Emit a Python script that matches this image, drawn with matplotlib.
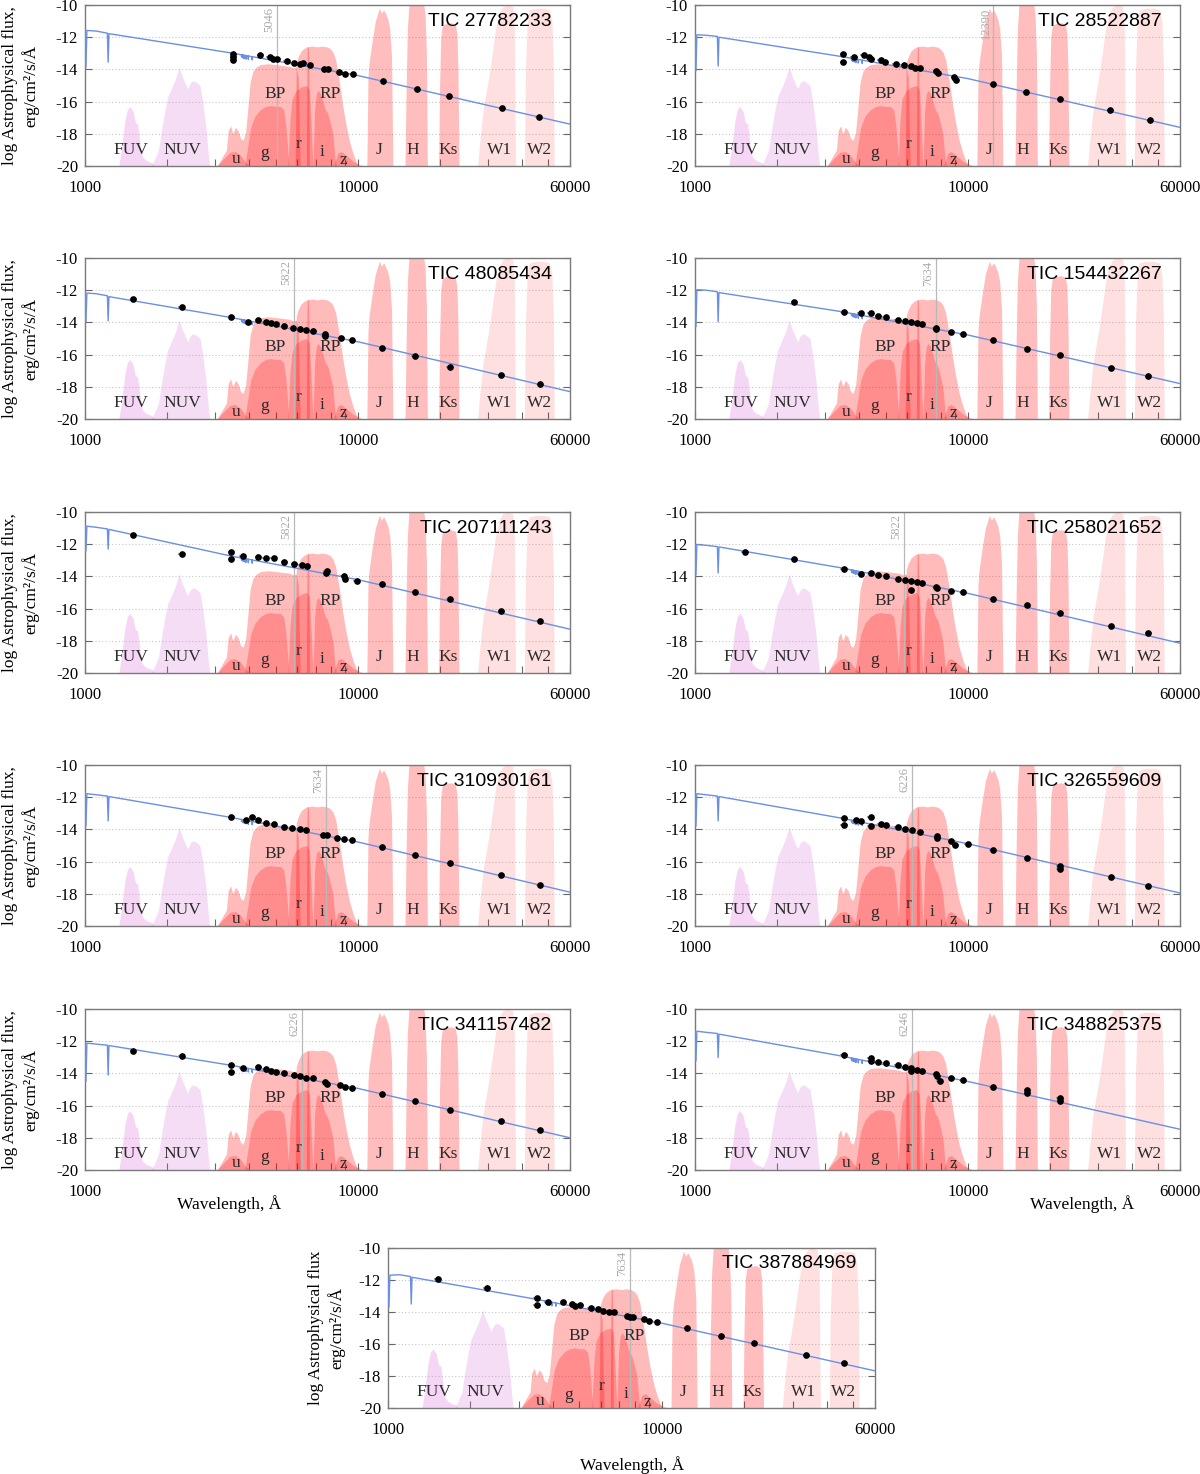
import numpy as np
import matplotlib
matplotlib.use("Agg")
import matplotlib.pyplot as plt
from matplotlib.ticker import FixedLocator, NullFormatter, FixedFormatter

plt.rcParams['font.family'] = ['Liberation Serif', 'DejaVu Serif']
plt.rcParams['axes.unicode_minus'] = False

# ---------------- panel metadata ----------------
TITLES = ["TIC 27782233", "TIC 28522887", "TIC 48085434", "TIC 154432267",
          "TIC 207111243", "TIC 258021652", "TIC 310930161", "TIC 326559609",
          "TIC 341157482", "TIC 348825375", "TIC 387884969"]
VLINES = [5046, 12390, 5822, 7634, 5822, 5822, 7634, 6226, 6226, 6246, 7634]

# ---------------- model SEDs (log flux on a shared wavelength grid) ----------------
MODEL_WL = [1000, 1008, 1016, 1100, 1208, 1216, 1224, 3440, 10000, 60000]
MODEL_1 = [-11.55, -13.85, -11.58, -11.62, -11.75, -13.55, -11.78, -12.98, -14.38, -17.40]
MODEL_2 = [-11.85, -14.10, -11.85, -11.88, -11.95, -13.79, -12.00, -13.20, -14.57, -17.60]
MODEL_3 = [-12.15, -13.95, -12.18, -12.22, -12.35, -13.90, -12.40, -13.70, -15.20, -18.30]
MODEL_4 = [-11.94, -14.27, -11.97, -12.00, -12.10, -13.96, -12.15, -13.33, -14.78, -17.80]
MODEL_5 = [-10.84, -12.42, -10.88, -10.95, -11.05, -12.30, -11.08, -12.74, -14.20, -17.28]
MODEL_6 = [-12.00, -13.90, -12.02, -12.07, -12.15, -13.79, -12.17, -13.47, -15.05, -18.15]
MODEL_7 = [-11.75, -13.79, -11.78, -11.85, -11.93, -13.47, -11.96, -13.26, -14.78, -17.90]
MODEL_8 = [-11.75, -13.80, -11.78, -11.85, -11.93, -13.47, -11.96, -13.30, -14.89, -17.95]
MODEL_9 = [-12.10, -14.50, -12.12, -12.18, -12.25, -14.10, -12.27, -13.50, -14.93, -18.00]
MODEL_10 = [-11.35, -13.23, -11.38, -11.45, -11.52, -13.02, -11.56, -12.92, -14.50, -17.47]
MODEL_11 = [-11.73, -13.70, -11.70, -11.67, -11.78, -13.50, -11.83, -13.19, -14.70, -17.68]
MODELS = [MODEL_1, MODEL_2, MODEL_3, MODEL_4, MODEL_5, MODEL_6, MODEL_7, MODEL_8,
          MODEL_9, MODEL_10, MODEL_11]

# small Balmer absorption wiggles of the model
BALMER_WL = [3750, 3771, 3798, 3835, 3889, 3970, 4102]
BALMER_DEPTH = [0.12, 0.15, 0.18, 0.2, 0.22, 0.22, 0.2]

# ---------------- photometry ----------------
WL_1 = [3498, 3498, 3498, 4393, 4750, 4877, 5070, 5505, 5816, 6148, 6306, 6680, 7528, 7770, 8540, 8960, 9570, 12330, 16430, 21600, 33660, 46020]
FLUX_1 = [-13.02, -13.23, -13.40, -13.08, -13.23, -13.33, -13.38, -13.48, -13.58, -13.65, -13.60, -13.73, -13.96, -14.00, -14.17, -14.31, -14.27, -14.75, -15.21, -15.67, -16.42, -16.98]
WL_2 = [3500, 3500, 3830, 4150, 4360, 4430, 4800, 4990, 5460, 5830, 6190, 6390, 6700, 7680, 7760, 8930, 9020, 12340, 16350, 21830, 33300, 46500]
FLUX_2 = [-13.05, -13.52, -13.26, -13.09, -13.20, -13.37, -13.41, -13.52, -13.64, -13.73, -13.79, -13.89, -13.94, -14.10, -14.25, -14.46, -14.63, -14.90, -15.43, -15.85, -16.53, -17.12]
WL_3 = [1503, 2259, 3440, 3965, 4316, 4600, 4813, 5035, 5376, 5770, 6155, 6443, 6875, 7573, 7573, 8694, 9499, 12300, 16200, 21700, 33600, 46400]
FLUX_3 = [-12.56, -13.06, -13.65, -14.00, -13.85, -13.96, -14.02, -14.10, -14.23, -14.33, -14.40, -14.48, -14.54, -14.75, -14.85, -14.94, -15.10, -15.58, -16.10, -16.77, -17.25, -17.85]
WL_4 = [2315, 3520, 4050, 4410, 4700, 5010, 5530, 5890, 6200, 6490, 6800, 7640, 7640, 8700, 9570, 12370, 16550, 21800, 33600, 45900]
FLUX_4 = [-12.75, -13.33, -13.40, -13.44, -13.58, -13.69, -13.85, -13.92, -14.00, -14.06, -14.10, -14.33, -14.42, -14.58, -14.73, -15.10, -15.63, -16.00, -16.81, -17.35]
WL_5 = [1503, 2259, 3440, 3440, 3790, 4316, 4600, 4915, 5376, 5850, 6240, 6530, 7670, 7720, 8900, 9000, 9900, 12300, 16200, 21700, 33600, 46400]
FLUX_5 = [-11.41, -12.59, -12.48, -12.95, -12.74, -12.78, -12.84, -12.88, -13.10, -13.22, -13.30, -13.37, -13.79, -13.68, -13.96, -14.15, -14.30, -14.46, -14.99, -15.43, -16.17, -16.74]
WL_6 = [1520, 2315, 3520, 4050, 4410, 4700, 5010, 5530, 5890, 6200, 6200, 6490, 6800, 7640, 7740, 8700, 9570, 12370, 16550, 21800, 33600, 45900]
FLUX_6 = [-12.46, -12.90, -13.54, -13.83, -13.79, -13.89, -13.96, -14.15, -14.21, -14.27, -14.84, -14.36, -14.38, -14.63, -14.74, -14.88, -14.99, -15.43, -15.79, -16.27, -17.05, -17.54]
WL_7 = [3440, 3890, 4100, 4316, 4600, 4915, 5376, 5740, 6120, 6443, 7430, 7720, 8360, 8900, 9500, 12300, 16200, 21700, 33600, 46400]
FLUX_7 = [-13.26, -13.43, -13.20, -13.43, -13.58, -13.68, -13.85, -13.94, -14.00, -14.06, -14.32, -14.36, -14.53, -14.59, -14.67, -15.12, -15.58, -16.11, -16.84, -17.43]
WL_8 = [3520, 3520, 3900, 4050, 4410, 4410, 4800, 5010, 5530, 5890, 6260, 6690, 7740, 7740, 8700, 9000, 10000, 12370, 16550, 21800, 21800, 33600, 45900]
FLUX_8 = [-13.30, -13.75, -13.43, -13.50, -13.20, -13.77, -13.68, -13.75, -13.85, -13.96, -14.06, -14.15, -14.42, -14.56, -14.69, -14.98, -14.88, -15.26, -15.75, -16.25, -16.48, -16.98, -17.52]
WL_9 = [1503, 2259, 3440, 3440, 3790, 4316, 4600, 4813, 5035, 5376, 5850, 6120, 6443, 6875, 7573, 7720, 8580, 9000, 9500, 12300, 16200, 21700, 33600, 46400]
FLUX_9 = [-12.60, -12.95, -13.47, -13.93, -13.68, -13.63, -13.74, -13.82, -13.89, -14.00, -14.10, -14.15, -14.27, -14.31, -14.52, -14.63, -14.73, -14.84, -14.90, -15.30, -15.74, -16.30, -16.94, -17.50]
WL_10 = [3520, 4410, 4410, 4700, 5010, 5530, 5890, 6200, 6200, 6490, 6800, 7640, 7740, 7900, 8700, 9570, 12370, 16550, 16550, 21800, 21800]
FLUX_10 = [-12.88, -13.06, -13.23, -13.29, -13.38, -13.50, -13.58, -13.65, -13.85, -13.79, -13.85, -14.02, -14.17, -14.48, -14.31, -14.44, -14.85, -15.21, -15.00, -15.70, -15.50]
WL_11 = [1521, 2300, 3500, 3500, 3850, 4360, 4710, 4800, 5030, 5500, 5830, 6120, 6420, 6670, 7470, 7630, 7840, 8590, 8980, 9580, 12400, 16460, 21700, 33700, 46300]
FLUX_11 = [-11.94, -12.50, -13.15, -13.56, -13.40, -13.35, -13.50, -13.65, -13.56, -13.77, -13.81, -13.92, -13.98, -13.98, -14.23, -14.33, -14.29, -14.44, -14.54, -14.60, -15.02, -15.48, -15.94, -16.69, -17.21]
DATA_WL = [WL_1, WL_2, WL_3, WL_4, WL_5, WL_6, WL_7, WL_8, WL_9, WL_10, WL_11]
DATA_FLUX = [FLUX_1, FLUX_2, FLUX_3, FLUX_4, FLUX_5, FLUX_6, FLUX_7, FLUX_8, FLUX_9, FLUX_10, FLUX_11]

# ---------------- filter transmission outlines (wavelength, level) ----------------
FUV_WL = [1330, 1360, 1400, 1430, 1460, 1500, 1530, 1560, 1590, 1620, 1660, 1700, 1760, 1800]
FUV_Y = [-20, -19.0, -17.2, -16.5, -16.3, -16.6, -17.3, -17.4, -18.6, -19.4, -19.6, -19.7, -19.8, -20]
NUV_WL = [1750, 1800, 1860, 1915, 1960, 2010, 2060, 2145, 2214, 2280, 2377, 2430, 2480, 2560, 2640, 2700, 2777, 2830, 2866]
NUV_Y = [-20, -19.6, -19.0, -17.6, -16.6, -15.7, -15.3, -14.6, -13.85, -14.5, -15.2, -14.85, -14.7, -14.8, -15.0, -16.0, -17.6, -19.2, -20]
BP_WL = [3050, 3150, 3300, 3350, 3420, 3480, 3560, 3640, 3720, 3800, 3880, 3950, 4030, 4130, 4250, 4400, 4700, 5000, 5300, 5600, 5800, 5950, 6050, 6150]
BP_Y = [-20, -19.6, -19.0, -17.8, -17.5, -18.0, -17.6, -17.8, -18.3, -18.4, -17.9, -16.5, -14.8, -14.1, -13.85, -13.7, -13.65, -13.7, -13.75, -13.8, -13.9, -13.85, -14.5, -20]
RP_WL = [5900, 5950, 6050, 6200, 6350, 6500, 6800, 7100, 7400, 7700, 7900, 8100, 8300, 8450, 8600, 8800, 9000, 9300, 9600, 9900, 10100]
RP_Y = [-20, -13.6, -13.2, -12.85, -12.7, -12.6, -12.55, -12.6, -12.55, -12.6, -12.7, -12.9, -13.4, -14.2, -15.0, -16.2, -17.2, -18.4, -19.2, -19.8, -20]
HA_WL = [6480, 6515, 6535, 6590, 6610, 6645]
HA_Y = [-20, -13.6, -12.6, -12.6, -13.6, -20]
U_WL = [3050, 3200, 3400, 3550, 3700, 3850, 4000]
U_Y = [-20, -19.6, -19.15, -19.1, -19.3, -19.7, -20]
G_WL = [3850, 3950, 4050, 4200, 4400, 4600, 4800, 5000, 5200, 5350, 5450, 5550, 5600]
G_Y = [-20, -18.8, -17.6, -16.9, -16.5, -16.3, -16.25, -16.3, -16.3, -16.5, -17.5, -19.2, -20]
R_WL = [5550, 5650, 5750, 5950, 6200, 6500, 6650, 6750, 6850]
R_Y = [-20, -17.0, -15.8, -15.3, -15.1, -15.0, -15.3, -17.5, -20]
I_WL = [6850, 6950, 7050, 7150, 7300, 7450, 7600, 7750, 7900, 8100, 8250, 8350]
I_Y = [-20, -16.5, -15.5, -15.3, -15.5, -16.0, -16.5, -16.7, -17.2, -18.0, -19.5, -20]
Z_WL = [8150, 8300, 8450, 8700, 9000, 9300, 9600, 10000, 10500]
Z_Y = [-20, -19.6, -19.2, -19.1, -19.3, -19.5, -19.7, -19.85, -20]
J_WL = [10800, 10900, 11000, 11150, 11300, 11450, 11600, 11800, 12000, 12200, 12450, 12700, 12900, 13100, 13300, 13450]
J_Y = [-20, -14.5, -13.6, -12.9, -12.2, -11.6, -11.0, -10.6, -10.2, -10.5, -10.3, -10.6, -10.9, -11.5, -13.2, -20]
H_WL = [14900, 15050, 15200, 15400, 15600, 17400, 17650, 17850, 18000]
H_Y = [-20, -15, -11.5, -10.0, -9.8, -9.8, -10.6, -13, -20]
KS_WL = [19800, 19950, 20150, 20400, 21000, 22000, 22800, 23100, 23300, 23500]
KS_Y = [-20, -15, -12, -11.3, -11.15, -11.1, -11.2, -11.8, -14, -20]
W1_WL = [27500, 28000, 28800, 29500, 30200, 31000, 32000, 33000, 34000, 35500, 37000, 37500, 37900]
W1_Y = [-20, -18.5, -16.5, -15.5, -14.5, -13.2, -11.5, -10.5, -10.1, -10.0, -10.1, -11.5, -20]
W2_WL = [40800, 41200, 41800, 42500, 45000, 48000, 50500, 51500, 52200, 52500]
W2_Y = [-20, -14, -11, -10.3, -10.2, -10.2, -10.3, -11.0, -14, -20]

BAND_NAMES = ["FUV", "NUV", "u", "g", "r", "i", "z", "J", "H", "Ks", "W1", "W2", "BP", "RP"]
BAND_LABEL_WL = [1475, 2268, 3578, 4571, 6040, 7396, 8836, 11970, 15950, 21430, 32990, 46220, 4974, 7915]
BAND_LABEL_Y = [-19.0, -19.0, -19.55, -19.2, -18.65, -19.15, -19.6, -19.0, -19.0, -19.0, -19.0, -19.0, -15.5, -15.5]

FILTERS = [
    (FUV_WL, FUV_Y, '#d966d9', 0.26),
    (NUV_WL, NUV_Y, '#d966d9', 0.22),
    (BP_WL, BP_Y, '#ff0000', 0.27),
    (RP_WL, RP_Y, '#ff0000', 0.27),
    (HA_WL, HA_Y, '#ff0000', 0.28),
    (U_WL, U_Y, '#ff0000', 0.24),
    (G_WL, G_Y, '#ff0000', 0.24),
    (R_WL, R_Y, '#ff0000', 0.24),
    (I_WL, I_Y, '#ff0000', 0.24),
    (Z_WL, Z_Y, '#ff0000', 0.24),
    (J_WL, J_Y, '#ff0000', 0.26),
    (H_WL, H_Y, '#ff0000', 0.26),
    (KS_WL, KS_Y, '#ff0000', 0.26),
    (W1_WL, W1_Y, '#ff0000', 0.12),
    (W2_WL, W2_Y, '#ff0000', 0.12),
]

YLABEL_GRID = "log Astrophysical flux,\nerg/cm\u00b2/s/\u00c5"
YLABEL_LAST = "log Astrophysical flux\nerg/cm\u00b2/s/\u00c5"

W, H = 1200, 1474
fig = plt.figure(figsize=(W / 100, H / 100), dpi=100)

ROW_TOPS = [5, 258, 512, 765, 1009]
COL_LEFTS = [85, 695]
AX_W, AX_H = 485, 161


def make_rect(left, top, w, h):
    return [left / W, 1 - (top + h) / H, w / W, h / H]


rects = []
for r in range(5):
    for c in range(2):
        rects.append(make_rect(COL_LEFTS[c], ROW_TOPS[r], AX_W, AX_H))
rects.append(make_rect(388, 1248, 487, 160))


def draw_panel(ax, k):
    ax.set_xscale('log')
    ax.set_xlim(1000, 60000)
    ax.set_ylim(-20, -10)
    ax.set_axisbelow(True)
    # filters
    for fw, fy, col, al in FILTERS:
        ax.fill_between(fw, fy, -20, color=col, alpha=al, lw=0, zorder=1)
    # band labels
    for name, bx, by in zip(BAND_NAMES, BAND_LABEL_WL, BAND_LABEL_Y):
        ax.text(bx, by, name, ha='center', va='center', fontsize=12.5,
                color='#2a2a2a', zorder=6)
    # vertical marker
    vl = VLINES[k]
    ax.axvline(vl, color='#b8b8b8', lw=0.9, zorder=2)
    ax.text(vl / 1.012, -10.15, str(vl), rotation=90, ha='right', va='top',
            fontsize=9, color='#aaaaaa', zorder=6)
    # model line
    mw = np.array(MODEL_WL, dtype=float)
    mf = np.array(MODELS[k], dtype=float)
    lw_all = list(mw)
    lf_all = list(mf)
    for bw, bd in zip(BALMER_WL, BALMER_DEPTH):
        base = np.interp(np.log10([bw - 5, bw, bw + 5]), np.log10(mw), mf)
        lw_all += [bw - 5, bw, bw + 5]
        lf_all += [base[0], base[1] - bd, base[2]]
    order = np.argsort(lw_all)
    ax.plot(np.array(lw_all)[order], np.array(lf_all)[order], color='#6b8fe3',
            lw=1.0, zorder=3)
    # photometry
    dw = np.array(DATA_WL[k], dtype=float)
    df = np.array(DATA_FLUX[k], dtype=float)
    ax.errorbar(dw, df, xerr=[dw * 0.03, dw * 0.03], yerr=0.06, fmt='none',
                ecolor='#9a9a9a', elinewidth=1.3, capsize=0, zorder=4)
    ax.plot(dw, df, 'o', color='black', ms=3.8, zorder=5)
    # title
    ax.text(0.962, 0.9, TITLES[k], transform=ax.transAxes, ha='right',
            va='center', fontsize=14, family=['Liberation Sans', 'DejaVu Sans'],
            zorder=7)
    # axes styling
    ax.yaxis.set_major_locator(FixedLocator([-20, -18, -16, -14, -12, -10]))
    ax.yaxis.set_major_formatter(FixedFormatter(['-20', '-18', '-16', '-14', '-12', '-10']))
    ax.yaxis.grid(True, ls=(0, (1, 2)), color='#c8c8c8', lw=0.8)
    ax.xaxis.set_major_locator(FixedLocator([1000, 10000, 60000]))
    ax.xaxis.set_major_formatter(FixedFormatter(['1000', '10000', '60000']))
    ax.xaxis.set_minor_locator(FixedLocator([2000, 3000, 4000, 5000, 6000, 7000, 8000, 9000,
                                              20000, 30000, 40000, 50000]))
    ax.xaxis.set_minor_formatter(NullFormatter())
    ax.tick_params(axis='both', which='both', direction='in', length=5, width=0.8,
                   color='#666666', labelsize=12, top=False, right=True)
    ax.tick_params(axis='x', which='both', pad=10)
    ax.tick_params(axis='y', which='both', pad=5)
    for s in ax.spines.values():
        s.set_color('#7a7a7a')
        s.set_linewidth(1.0)


for k, rect in enumerate(rects):
    ax = fig.add_axes(rect)
    draw_panel(ax, k)
    if k == 10:
        ax.set_ylabel(YLABEL_LAST, fontsize=12.5, linespacing=1.25)
        ax.yaxis.set_label_coords(-0.088, 0.5)
        ax.text(0.501, -0.356, "Wavelength, \u00c5", transform=ax.transAxes,
                ha='center', va='center', fontsize=12.5)
    else:
        if k % 2 == 0:
            ax.set_ylabel(YLABEL_GRID, fontsize=12.5, linespacing=1.25)
            ax.yaxis.set_label_coords(-0.095, 0.5)
        if k == 8:
            ax.text(0.297, -0.2125, "Wavelength, \u00c5", transform=ax.transAxes,
                    ha='center', va='center', fontsize=12.5)
        if k == 9:
            ax.text(0.798, -0.2125, "Wavelength, \u00c5", transform=ax.transAxes,
                    ha='center', va='center', fontsize=12.5)

fig.savefig("out.png", dpi=100)
